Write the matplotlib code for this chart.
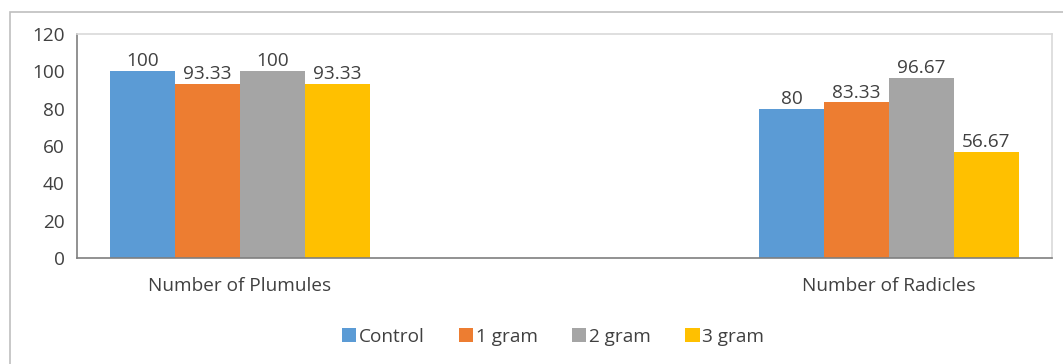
import matplotlib
matplotlib.use("Agg")
import matplotlib.pyplot as plt
from matplotlib.patches import Rectangle
import numpy as np

categories = ["Number of Plumules", "Number of Radicles"]
series_names = ["Control", "1 gram", "2 gram", "3 gram"]
control = [100, 80]
gram1 = [93.33, 83.33]
gram2 = [100, 96.67]
gram3 = [93.33, 56.67]
labels = [["100", "80"], ["93.33", "83.33"], ["100", "96.67"], ["93.33", "56.67"]]
colors = ["#5B9BD5", "#ED7D31", "#A5A5A5", "#FFC000"]
yticks = [0, 20, 40, 60, 80, 100, 120]

plt.rcParams['font.family'] = ['Open Sans', 'DejaVu Sans']
txt = "#404040"
fs = 13.7

fig = plt.figure(figsize=(10.63, 3.64), dpi=100)
# outer chart border
fig.patches.append(Rectangle((9.5/1063, -0.1), 1.2, 1 - 11.5/364 + 0.1,
                             transform=fig.transFigure, fill=False,
                             edgecolor="#BFBFBF", linewidth=1.2))

ax = fig.add_axes([77/1063, 1 - 258/364, (1052-77)/1063, (258-34)/364])
x = np.arange(len(categories))
w = 0.1
data = [control, gram1, gram2, gram3]
for i, (vals, name, c) in enumerate(zip(data, series_names, colors)):
    pos = x + (i - 1.5) * w
    ax.bar(pos, vals, w, color=c, label=name, zorder=2)
    for p, v, lab in zip(pos, vals, labels[i]):
        ax.text(p, v + 0.5, lab, ha="center", va="bottom", fontsize=fs, color=txt)

ax.set_xlim(-0.251, 1.251)
ax.set_ylim(0, 120)
ax.set_yticks(yticks)
ax.set_xticks(x)
ax.set_xticklabels(categories)
ax.tick_params(axis="both", length=0, labelsize=fs, colors=txt)
ax.tick_params(axis="y", pad=9)
ax.tick_params(axis="x", pad=14)
for s in ["top", "right"]:
    ax.spines[s].set_color("#D9D9D9")
    ax.spines[s].set_linewidth(1.2)
for s in ["left", "bottom"]:
    ax.spines[s].set_color("#7F7F7F")
    ax.spines[s].set_linewidth(1.2)

leg = fig.legend(loc="center", bbox_to_anchor=(553/1063, 1 - 337/364), ncol=4,
                 frameon=False, fontsize=fs, handlelength=0.75, handleheight=0.75,
                 handletextpad=0.15, columnspacing=1.8, labelcolor=txt)

fig.savefig("out.png", dpi=100)
